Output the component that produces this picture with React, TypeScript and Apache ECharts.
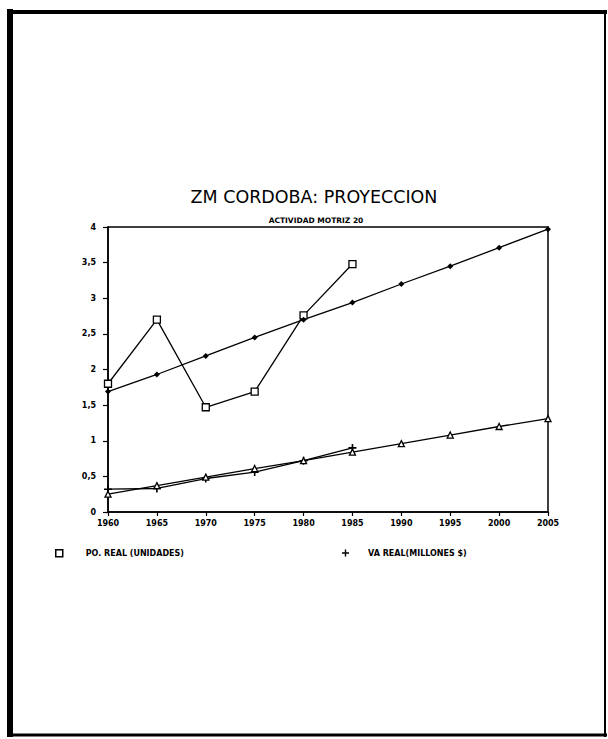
import React, { useEffect, useRef } from "react";
import * as echarts from "echarts";

const years = [1960, 1965, 1970, 1975, 1980, 1985, 1990, 1995, 2000, 2005];
const poReal = [1.8, 2.7, 1.47, 1.69, 2.76, 3.48];
const poProy = [1.69, 1.93, 2.19, 2.45, 2.7, 2.94, 3.2, 3.45, 3.71, 3.97];
const vaReal = [0.32, 0.33, 0.47, 0.56, 0.72, 0.9];
const vaProy = [0.25, 0.37, 0.49, 0.61, 0.72, 0.84, 0.96, 1.08, 1.2, 1.31];
const yTicks = [0, 0.5, 1, 1.5, 2, 2.5, 3, 3.5, 4];

const PLUS = "path://M4,0H6V4H10V6H6V10H4V6H0V4H4Z";

export default function App() {
  const ref = useRef<HTMLDivElement>(null);
  useEffect(() => {
    if (!ref.current) return;
    const chart = echarts.init(ref.current, null, { renderer: "svg" });
    const pair = (vals: number[]) => vals.map((v, i) => [years[i], v]);
    const lbl = { color: "#000", fontFamily: "DejaVu Sans", fontWeight: "bold" as const, fontSize: 8 };
    chart.setOption({
      animation: false,
      backgroundColor: "#fff",
      title: [
        {
          text: "ZM CORDOBA: PROYECCION",
          left: 309,
          top: 183,
          textAlign: "center",
          textStyle: { fontFamily: "DejaVu Sans", fontWeight: "normal", fontSize: 17.5, color: "#000" },
        },
        {
          text: "ACTIVIDAD MOTRIZ 20",
          left: 311,
          top: 211,
          textAlign: "center",
          textStyle: { fontFamily: "DejaVu Sans", fontWeight: "bold", fontSize: 7.5, color: "#000" },
        },
      ],
      legend: [
        {
          left: 55,
          top: 549,
          padding: 0,
          itemWidth: 7,
          itemHeight: 7,
          data: [
            {
              name: "PO. REAL (UNIDADES)",
              icon: "rect",
              itemStyle: { color: "#fff", borderColor: "#000", borderWidth: 1.5 },
            },
          ],
          textStyle: { ...lbl, padding: [0, 0, 0, 18] },
        },
        {
          left: 342,
          top: 549,
          padding: 0,
          itemWidth: 7,
          itemHeight: 7,
          data: [
            {
              name: "VA REAL(MILLONES $)",
              icon: PLUS,
              itemStyle: { color: "#000", borderWidth: 0 },
            },
          ],
          textStyle: { ...lbl, padding: [0, 0, 0, 14] },
        },
      ],
      grid: {
        left: 108,
        right: 60,
        top: 227,
        bottom: 227,
        show: true,
        borderColor: "#000",
        borderWidth: 1.5,
        backgroundColor: "transparent",
      },
      xAxis: {
        type: "value",
        min: 1960,
        max: 2005,
        interval: 5,
        axisLine: { lineStyle: { color: "#000", width: 1.5 } },
        axisTick: { length: 4, lineStyle: { color: "#000", width: 1.2 } },
        splitLine: { show: false },
        axisLabel: { ...lbl, margin: 7, formatter: (v: number) => String(v) },
      },
      yAxis: {
        type: "value",
        min: 0,
        max: 4,
        interval: 0.5,
        axisLine: { show: true, lineStyle: { color: "#000", width: 1.5 } },
        axisTick: { show: true, length: 5, lineStyle: { color: "#000", width: 1.2 } },
        splitLine: { show: false },
        axisLabel: {
          ...lbl,
          margin: 12,
          formatter: (v: number) => (yTicks.includes(v) ? String(v).replace(".", ",") : ""),
        },
      },
      series: [
        {
          name: "PO. REAL (UNIDADES)",
          type: "line",
          data: pair(poReal),
          symbol: "rect",
          symbolSize: 7,
          lineStyle: { color: "#000", width: 1.3 },
          itemStyle: { color: "#fff", borderColor: "#000", borderWidth: 1.3 },
          z: 3,
        },
        {
          name: "PO proy",
          type: "line",
          data: pair(poProy),
          symbol: "diamond",
          symbolSize: 6,
          lineStyle: { color: "#000", width: 1.3 },
          itemStyle: { color: "#000" },
        },
        {
          name: "VA REAL(MILLONES $)",
          type: "line",
          data: pair(vaReal),
          symbol: PLUS,
          symbolSize: 8,
          lineStyle: { color: "#000", width: 1.3 },
          itemStyle: { color: "#000" },
        },
        {
          name: "VA proy",
          type: "line",
          data: pair(vaProy),
          symbol: "triangle",
          symbolSize: 6,
          lineStyle: { color: "#000", width: 1.3 },
          itemStyle: { color: "#fff", borderColor: "#000", borderWidth: 1.3 },
        },
      ],
      graphic: [
        { type: "line", shape: { x1: 10, y1: 9, x2: 10, y2: 737 }, style: { stroke: "#000", lineWidth: 6 } },
        { type: "line", shape: { x1: 7, y1: 12, x2: 607, y2: 12 }, style: { stroke: "#000", lineWidth: 4 } },
        { type: "line", shape: { x1: 605, y1: 10, x2: 605, y2: 737 }, style: { stroke: "#000", lineWidth: 2 } },
        { type: "line", shape: { x1: 7, y1: 735, x2: 607, y2: 735 }, style: { stroke: "#000", lineWidth: 3 } },
      ],
    });
    return () => chart.dispose();
  }, []);
  return (
    <div
      ref={ref}
      style={{ position: "fixed", left: 0, top: 0, width: 608, height: 739, background: "#fff" }}
    />
  );
}
